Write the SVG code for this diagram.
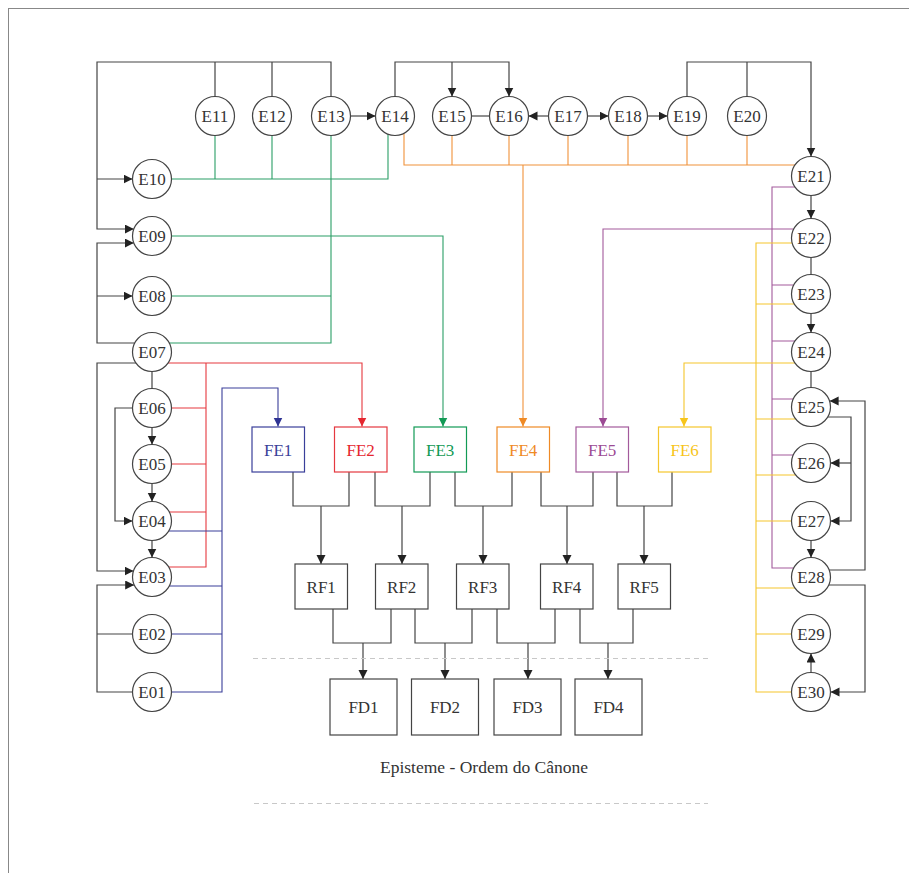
<svg xmlns="http://www.w3.org/2000/svg" width="909" height="873" viewBox="0 0 909 873">
<style>
.n circle{fill:#fff;stroke:#444;stroke-width:1.2}
.n rect{fill:#fff;stroke:#444;stroke-width:1.2}
text{font-family:'Liberation Serif','Times New Roman',Times,serif;font-size:17px;fill:#333;text-anchor:middle}
.k{fill:none;stroke:#444;stroke-width:1.2}
.bl{fill:none;stroke:#3a3f9a;stroke-width:1.1}
.rd{fill:none;stroke:#e5383f;stroke-width:1.1}
.gr{fill:none;stroke:#2a9e66;stroke-width:1.1}
.or{fill:none;stroke:#f0923a;stroke-width:1.1}
.pu{fill:none;stroke:#a35a9c;stroke-width:1.1}
.ye{fill:none;stroke:#f5c62c;stroke-width:1.1}
.dash{fill:none;stroke:#c8c8c8;stroke-width:1;stroke-dasharray:5 4}
</style>
<defs>
<marker id="ak" markerUnits="userSpaceOnUse" markerWidth="10" markerHeight="10" refX="9" refY="4.5" orient="auto"><path d="M0,0 L9,4.5 L0,9 z" fill="#222"/></marker>
<marker id="ab" markerUnits="userSpaceOnUse" markerWidth="10" markerHeight="10" refX="9" refY="4.5" orient="auto"><path d="M0,0 L9,4.5 L0,9 z" fill="#2e3393"/></marker>
<marker id="ar" markerUnits="userSpaceOnUse" markerWidth="10" markerHeight="10" refX="9" refY="4.5" orient="auto"><path d="M0,0 L9,4.5 L0,9 z" fill="#e5262f"/></marker>
<marker id="ag" markerUnits="userSpaceOnUse" markerWidth="10" markerHeight="10" refX="9" refY="4.5" orient="auto"><path d="M0,0 L9,4.5 L0,9 z" fill="#129a55"/></marker>
<marker id="ao" markerUnits="userSpaceOnUse" markerWidth="10" markerHeight="10" refX="9" refY="4.5" orient="auto"><path d="M0,0 L9,4.5 L0,9 z" fill="#ef8a25"/></marker>
<marker id="ap" markerUnits="userSpaceOnUse" markerWidth="10" markerHeight="10" refX="9" refY="4.5" orient="auto"><path d="M0,0 L9,4.5 L0,9 z" fill="#9c4a94"/></marker>
<marker id="ay" markerUnits="userSpaceOnUse" markerWidth="10" markerHeight="10" refX="9" refY="4.5" orient="auto"><path d="M0,0 L9,4.5 L0,9 z" fill="#f7c51a"/></marker>
</defs>
<rect x="8.5" y="8.5" width="930" height="900" fill="none" stroke="#888" stroke-width="1"/>

<g id="connectors">
<path class="k" d="M331,96.5 V62 H97 V229 H133.8" marker-end="url(#ak)"/>
<path class="k" d="M215,96.5 V62 M272,96.5 V62"/>
<path class="k" d="M97,179 H132.5" marker-end="url(#ak)"/>
<path class="k" d="M134.7,343 H97 V243 H133.8" marker-end="url(#ak)"/>
<path class="k" d="M97,296 H132.5" marker-end="url(#ak)"/>
<path class="k" d="M135.9,363 H97 V571 H133.5" marker-end="url(#ak)"/>
<path class="k" d="M132.5,408 H115 V521 H132.5" marker-end="url(#ak)"/>
<path class="k" d="M132.5,692 H97 V585 H134.2" marker-end="url(#ak)"/>
<path class="k" d="M97,634 H132.5"/>
<path class="k" d="M152,371.5 V388.5"/>
<path class="k" d="M152,427.5 V444.5" marker-end="url(#ak)"/>
<path class="k" d="M152,483.5 V501.5" marker-end="url(#ak)"/>
<path class="k" d="M152,540.5 V557.5" marker-end="url(#ak)"/>
<path class="k" d="M350.5,116 H375.5" marker-end="url(#ak)"/>
<path class="k" d="M395,96.5 V62 H509 V96.5" marker-end="url(#ak)"/>
<path class="k" d="M452,62 V96.5" marker-end="url(#ak)"/>
<path class="k" d="M471.5,116 H489.5"/>
<path class="k" d="M548.5,116 H528.5" marker-end="url(#ak)"/>
<path class="k" d="M587.5,116 H608.5" marker-end="url(#ak)"/>
<path class="k" d="M647.5,116 H667.5" marker-end="url(#ak)"/>
<path class="k" d="M687,96.5 V62 H811 V156.5" marker-end="url(#ak)"/>
<path class="k" d="M747,96.5 V62"/>
<path class="k" d="M811,195.5 V218.5" marker-end="url(#ak)"/>
<path class="k" d="M811,257.5 V274.5"/>
<path class="k" d="M811,313.5 V332.5" marker-end="url(#ak)"/>
<path class="k" d="M811,371.5 V387.5"/>
<path class="k" d="M811,540.5 V557.5" marker-end="url(#ak)"/>
<path class="k" d="M811,672.5 V653.5" marker-end="url(#ak)"/>
<path class="k" d="M827.7,417 H851 V521 H830.5" marker-end="url(#ak)"/>
<path class="k" d="M851,463 H830.5" marker-end="url(#ak)"/>
<path class="k" d="M829.2,570 H865 V401 H829.6" marker-end="url(#ak)"/>
<path class="k" d="M828.8,585 H865 V692 H830.5" marker-end="url(#ak)"/>
<path class="k" d="M293,472 V506 H349 V472"/><path class="k" d="M321,506 V564" marker-end="url(#ak)"/>
<path class="k" d="M375,472 V506 H430 V472"/><path class="k" d="M402,506 V564" marker-end="url(#ak)"/>
<path class="k" d="M455,472 V506 H512 V472"/><path class="k" d="M483,506 V564" marker-end="url(#ak)"/>
<path class="k" d="M541,472 V506 H593 V472"/><path class="k" d="M567,506 V564" marker-end="url(#ak)"/>
<path class="k" d="M617,472 V506 H672 V472"/><path class="k" d="M644,506 V564" marker-end="url(#ak)"/>
<path class="k" d="M333,609 V643 H391 V609"/><path class="k" d="M363,643 V679" marker-end="url(#ak)"/>
<path class="k" d="M415,609 V643 H472 V609"/><path class="k" d="M445,643 V679" marker-end="url(#ak)"/>
<path class="k" d="M497,609 V643 H555 V609"/><path class="k" d="M528,643 V679" marker-end="url(#ak)"/>
<path class="k" d="M580,609 V643 H633 V609"/><path class="k" d="M608,643 V679" marker-end="url(#ak)"/>
<path class="rd" d="M168.1,363 H362 V426.5" marker-end="url(#ar)"/>
<path class="rd" d="M206,363 V567 H168.7"/>
<path class="rd" d="M171.5,408 H206 M171.5,464 H206 M169.3,512 H206"/>
<path class="bl" d="M171.5,692 H222 V388 H278 V426.5" marker-end="url(#ab)"/>
<path class="bl" d="M168.7,531 H222 M169.3,586 H222 M171.5,634 H222"/>
<path class="gr" d="M171.5,236 H443 V426.5" marker-end="url(#ag)"/>
<path class="gr" d="M331,135.5 V343 H169.3"/>
<path class="gr" d="M171.5,296 H331"/>
<path class="gr" d="M171.5,179 H388 V134.2"/>
<path class="gr" d="M215,135.5 V179 M272,135.5 V179"/>
<path class="or" d="M404,133.3 V165 H794.9"/>
<path class="or" d="M452,135.5 V165 M509,135.5 V165 M568,135.5 V165 M628,135.5 V165 M687,135.5 V165 M747,135.5 V165"/>
<path class="or" d="M523,165 V426.5" marker-end="url(#ao)"/>
<path class="pu" d="M793.7,229 H603 V426.5" marker-end="url(#ap)"/>
<path class="pu" d="M794.9,187 H772 V568 H793.7"/>
<path class="pu" d="M772,285 H793.7 M772,341 H794.9 M772,399 H793.2 M772,455 H793.2"/>
<path class="ye" d="M792.2,243 H756 V692 H791.5"/>
<path class="ye" d="M756,304 H794.3 M756,419 H795.6 M756,475 H795.6 M756,521 H791.5 M756,588 H794.9 M756,634 H791.5"/>
<path class="ye" d="M794.9,363 H684 V426.5" marker-end="url(#ay)"/>
</g>

<g font-family="Liberation Serif, serif">
<g id="E01" class="n"><circle cx="152" cy="692" r="19.5"/><text x="152" y="698">E01</text></g>
<g id="E02" class="n"><circle cx="152" cy="634" r="19.5"/><text x="152" y="640">E02</text></g>
<g id="E03" class="n"><circle cx="152" cy="577" r="19.5"/><text x="152" y="583">E03</text></g>
<g id="E04" class="n"><circle cx="152" cy="521" r="19.5"/><text x="152" y="527">E04</text></g>
<g id="E05" class="n"><circle cx="152" cy="464" r="19.5"/><text x="152" y="470">E05</text></g>
<g id="E06" class="n"><circle cx="152" cy="408" r="19.5"/><text x="152" y="414">E06</text></g>
<g id="E07" class="n"><circle cx="152" cy="352" r="19.5"/><text x="152" y="358">E07</text></g>
<g id="E08" class="n"><circle cx="152" cy="296" r="19.5"/><text x="152" y="302">E08</text></g>
<g id="E09" class="n"><circle cx="152" cy="236" r="19.5"/><text x="152" y="242">E09</text></g>
<g id="E10" class="n"><circle cx="152" cy="179" r="19.5"/><text x="152" y="185">E10</text></g>
<g id="E11" class="n"><circle cx="215" cy="116" r="19.5"/><text x="215" y="122">E11</text></g>
<g id="E12" class="n"><circle cx="272" cy="116" r="19.5"/><text x="272" y="122">E12</text></g>
<g id="E13" class="n"><circle cx="331" cy="116" r="19.5"/><text x="331" y="122">E13</text></g>
<g id="E14" class="n"><circle cx="395" cy="116" r="19.5"/><text x="395" y="122">E14</text></g>
<g id="E15" class="n"><circle cx="452" cy="116" r="19.5"/><text x="452" y="122">E15</text></g>
<g id="E16" class="n"><circle cx="509" cy="116" r="19.5"/><text x="509" y="122">E16</text></g>
<g id="E17" class="n"><circle cx="568" cy="116" r="19.5"/><text x="568" y="122">E17</text></g>
<g id="E18" class="n"><circle cx="628" cy="116" r="19.5"/><text x="628" y="122">E18</text></g>
<g id="E19" class="n"><circle cx="687" cy="116" r="19.5"/><text x="687" y="122">E19</text></g>
<g id="E20" class="n"><circle cx="747" cy="116" r="19.5"/><text x="747" y="122">E20</text></g>
<g id="E21" class="n"><circle cx="811" cy="176" r="19.5"/><text x="811" y="182">E21</text></g>
<g id="E22" class="n"><circle cx="811" cy="238" r="19.5"/><text x="811" y="244">E22</text></g>
<g id="E23" class="n"><circle cx="811" cy="294" r="19.5"/><text x="811" y="300">E23</text></g>
<g id="E24" class="n"><circle cx="811" cy="352" r="19.5"/><text x="811" y="358">E24</text></g>
<g id="E25" class="n"><circle cx="811" cy="407" r="19.5"/><text x="811" y="413">E25</text></g>
<g id="E26" class="n"><circle cx="811" cy="463" r="19.5"/><text x="811" y="469">E26</text></g>
<g id="E27" class="n"><circle cx="811" cy="521" r="19.5"/><text x="811" y="527">E27</text></g>
<g id="E28" class="n"><circle cx="811" cy="577" r="19.5"/><text x="811" y="583">E28</text></g>
<g id="E29" class="n"><circle cx="811" cy="634" r="19.5"/><text x="811" y="640">E29</text></g>
<g id="E30" class="n"><circle cx="811" cy="692" r="19.5"/><text x="811" y="698">E30</text></g>

<g id="FE1" class="n"><rect x="252" y="427" width="52.5" height="45" style="stroke:#3a3f9a"/><text x="278.2" y="455.5" style="fill:#3a3f9a">FE1</text></g>
<g id="FE2" class="n"><rect x="334.5" y="427" width="52.5" height="45" style="stroke:#e5383f"/><text x="360.7" y="455.5" style="fill:#e5262f">FE2</text></g>
<g id="FE3" class="n"><rect x="414" y="427" width="52.5" height="45" style="stroke:#129a55"/><text x="440.2" y="455.5" style="fill:#129a55">FE3</text></g>
<g id="FE4" class="n"><rect x="497" y="427" width="52.5" height="45" style="stroke:#ef8a25"/><text x="523.2" y="455.5" style="fill:#ef8a25">FE4</text></g>
<g id="FE5" class="n"><rect x="576" y="427" width="52.5" height="45" style="stroke:#a35a9c"/><text x="602.2" y="455.5" style="fill:#9c4a94">FE5</text></g>
<g id="FE6" class="n"><rect x="658.5" y="427" width="52.5" height="45" style="stroke:#f5c62c"/><text x="684.7" y="455.5" style="fill:#f7c51a">FE6</text></g>

<g id="RF1" class="n"><rect x="295" y="564" width="52.5" height="45"/><text x="321.2" y="592.5">RF1</text></g>
<g id="RF2" class="n"><rect x="375.5" y="564" width="52.5" height="45"/><text x="401.7" y="592.5">RF2</text></g>
<g id="RF3" class="n"><rect x="456.5" y="564" width="52.5" height="45"/><text x="482.7" y="592.5">RF3</text></g>
<g id="RF4" class="n"><rect x="540.5" y="564" width="52.5" height="45"/><text x="566.7" y="592.5">RF4</text></g>
<g id="RF5" class="n"><rect x="618" y="564" width="52.5" height="45"/><text x="644.2" y="592.5">RF5</text></g>

<g id="FD1" class="n"><rect x="330" y="679" width="67" height="56"/><text x="363.5" y="713">FD1</text></g>
<g id="FD2" class="n"><rect x="411.5" y="679" width="67" height="56"/><text x="445" y="713">FD2</text></g>
<g id="FD3" class="n"><rect x="494" y="679" width="67" height="56"/><text x="527.5" y="713">FD3</text></g>
<g id="FD4" class="n"><rect x="575" y="679" width="67" height="56"/><text x="608.5" y="713">FD4</text></g>

<path class="dash" d="M253,658.5 H712"/>
<path class="dash" d="M254,803.5 H708"/>
<text x="484" y="773" style="font-size:17.5px">Episteme - Ordem do Cânone</text>
</g>
</svg>
